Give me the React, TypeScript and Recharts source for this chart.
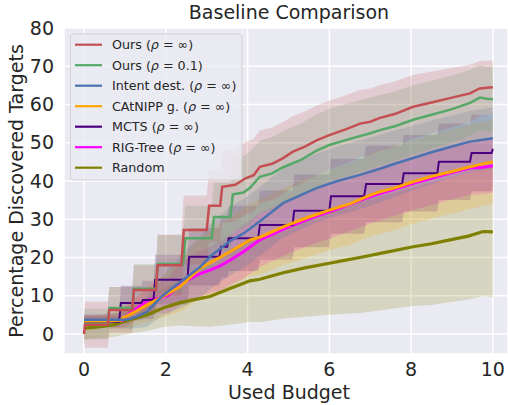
import React from 'react';
import { ComposedChart, Line, Area, XAxis, YAxis, CartesianGrid, Legend, Customized } from 'recharts';

const FONT = '"DejaVu Sans", "Liberation Sans", sans-serif';
const TXT = '#262626';

const xTicks = [0, 2, 4, 6, 8, 10];
const yTicks = [0, 10, 20, 30, 40, 50, 60, 70, 80];

// Ours (rho = inf)
const oursInfX = [0, 0.02, 0.58, 0.62, 1.18, 1.22, 1.76, 1.8, 2.38, 2.44, 3.0, 3.06, 3.33, 3.38, 3.7, 3.95, 4.15, 4.3, 4.6, 4.87, 5.1, 5.4, 5.7, 6.0, 6.4, 6.75, 7.0, 7.24, 7.6, 8.05, 8.5, 9.0, 9.44, 9.68, 9.85, 10];
const oursInfY = [0, 2.4, 2.4, 6.3, 6.3, 11.5, 11.5, 18, 18, 27.2, 27.2, 33.5, 33.5, 38.5, 39, 40.7, 41.5, 43.7, 44.5, 46, 47.6, 49, 50.7, 52, 53.5, 55, 55.5, 56.5, 57.5, 59.4, 60.5, 61.8, 62.9, 64.2, 64.4, 64.5];
const oursInfSd = [2, 6, 6, 6, 6, 6.5, 6.5, 8, 8, 9, 9, 9.5, 9.5, 9.5, 9.5, 9.5, 9.5, 9.5, 9.5, 9.4, 9.3, 9.2, 9.1, 9, 8.9, 8.8, 8.7, 8.6, 8.5, 8.3, 8.1, 7.8, 7.5, 7.2, 7.1, 7];

// Ours (rho = 0.1)
const ours01X = [0, 0.58, 0.62, 1.18, 1.22, 1.76, 1.8, 2.42, 2.48, 3.12, 3.18, 3.58, 3.64, 3.9, 4.06, 4.3, 4.6, 4.87, 5.3, 5.7, 6.0, 6.5, 7.0, 7.24, 7.6, 8.05, 8.5, 9.0, 9.44, 9.68, 9.85, 10];
const ours01Y = [2.6, 2.6, 6.8, 6.8, 11.8, 11.8, 18.3, 18.3, 25, 25, 30.6, 30.6, 36.5, 37, 38.2, 41.1, 42, 43.6, 45.5, 48, 49.4, 51, 52.5, 53.3, 54.3, 56, 57.3, 58.8, 60.4, 61.8, 61.5, 61.4];
const ours01Sd = [4, 4, 5.5, 5.5, 6.5, 6.5, 7.5, 7.5, 8.5, 8.5, 9, 9, 9.5, 9.5, 9.5, 9.5, 9.5, 9.5, 9.5, 9.5, 9.5, 9.4, 9.3, 9.2, 9.1, 9, 8.9, 8.8, 8.6, 8.5, 8.4, 8.4];

// Intent dest.
const intentX = [0, 0.5, 1.0, 1.12, 1.3, 1.54, 1.86, 2.1, 2.42, 2.84, 3.08, 3.57, 3.9, 4.06, 4.3, 4.87, 5.3, 5.7, 6.2, 6.75, 7.24, 7.6, 8.05, 8.5, 9.0, 9.44, 10];
const intentY = [3.7, 3.7, 3.7, 3.9, 4.6, 5.8, 9.4, 11.5, 14.1, 17.5, 20.2, 24.3, 26.3, 27.5, 29.5, 34.2, 36.3, 38.2, 40, 41.6, 43.2, 44.5, 46, 47.5, 49, 50.3, 51.2];
const intentSd = [1.5, 1.5, 2, 2.5, 3, 4, 5, 6, 7, 8, 8.5, 9, 9, 9, 9, 9, 9, 9, 9, 9, 8.8, 8.7, 8.5, 8.3, 8.1, 8, 8];

// CAtNIPP g.
const catnippX = [0, 0.5, 0.9, 0.95, 1.2, 1.54, 1.93, 2.35, 2.84, 3.57, 4.06, 4.3, 4.87, 5.4, 6.0, 6.5, 7.0, 7.24, 7.6, 8.05, 8.5, 9.0, 9.44, 9.8, 10];
const catnippY = [3.4, 3.4, 3.6, 4.2, 5.5, 7.6, 9.8, 12.4, 17.2, 21.5, 24.6, 25.3, 28, 30.2, 32.4, 34, 36.3, 37.2, 38.2, 39.8, 41.2, 42.5, 43.7, 44.6, 45];
const catnippSd = [1.5, 1.5, 2, 2.5, 3.5, 4.5, 5.5, 6.5, 8, 9, 9.5, 9.8, 10, 10.3, 10.5, 10.7, 10.8, 11, 11, 11, 11, 11, 11, 11, 11];

// MCTS
const mctsX = [0, 0.86, 0.9, 1.4, 1.44, 1.7, 1.74, 2.53, 2.57, 3.31, 3.35, 3.5, 3.54, 4.26, 4.3, 5.1, 5.14, 6.0, 6.04, 6.85, 6.9, 7.78, 7.82, 8.64, 8.68, 9.44, 9.48, 9.97, 10];
const mctsY = [3.2, 3.2, 8.1, 8.1, 8.9, 8.9, 14.2, 14.2, 20.2, 20.2, 22.8, 22.8, 25, 25, 28.5, 28.5, 32.2, 32.2, 36, 36, 39.2, 39.2, 42, 42, 45, 45, 47.3, 47.3, 48.4];
const mctsSd = [1.5, 1.5, 4.5, 4.5, 5, 5, 6.5, 6.5, 7.5, 7.5, 8, 8, 8.5, 8.5, 9, 9, 9.5, 9.5, 9.8, 9.8, 10, 10, 10, 10, 10, 10, 10, 10, 10];

// RIG-Tree
const rigX = [0, 0.5, 0.95, 1.0, 1.3, 1.6, 1.85, 2.05, 2.2, 2.42, 2.84, 3.08, 3.33, 3.57, 3.9, 4.3, 5.0, 5.6, 6.2, 7.0, 8.05, 9.0, 9.44, 9.76, 10];
const rigY = [3.5, 3.5, 3.6, 4.4, 6.8, 9.0, 9.4, 10, 11.5, 13.5, 15.8, 16.7, 17.8, 19.3, 21.5, 24.6, 28, 30.5, 32.7, 35.9, 39.4, 42.2, 43.4, 43.6, 44];
const rigSd = [1.5, 1.5, 2, 2.5, 3, 3.5, 4, 4.5, 5, 5.5, 6, 6, 6.5, 6.5, 7, 7, 7, 7, 7, 7, 7, 7, 7, 7, 7];

// Random
const randomX = [0, 0.3, 0.71, 1.12, 1.54, 1.93, 2.35, 2.7, 3.08, 3.6, 4.06, 4.3, 4.87, 5.4, 6.0, 6.4, 6.75, 7.4, 8.05, 8.5, 8.95, 9.4, 9.76, 10];
const randomY = [1.5, 1.8, 2.4, 3.7, 5.0, 6.8, 8.2, 9.0, 9.8, 12, 13.9, 14.3, 16, 17.3, 18.5, 19.3, 20, 21.4, 22.8, 23.6, 24.6, 25.6, 26.8, 26.7];
const randomSd = [3, 3, 3.2, 3.6, 4.2, 5, 6, 7, 8, 9.5, 10.7, 11.2, 12, 12.8, 13.5, 14, 14.5, 15, 15.5, 16, 16.3, 16.6, 16.9, 17];

const seriesNames = ['Ours', 'Ours', 'Intent dest.', 'CAtNIPP g.', 'MCTS', 'RIG-Tree', 'Random'];
const rhoValues = ['∞', '0.1', '∞', '∞', '∞', '∞', ''];
const colors = ['#C44E52', '#55A868', '#4C72B0', '#FFA500', '#4B0082', '#FF00FF', '#808000'];
const widths = [2.5, 2.5, 2.5, 3, 2, 3, 3.2];

const raw = [
  [oursInfX, oursInfY, oursInfSd],
  [ours01X, ours01Y, ours01Sd],
  [intentX, intentY, intentSd],
  [catnippX, catnippY, catnippSd],
  [mctsX, mctsY, mctsSd],
  [rigX, rigY, rigSd],
  [randomX, randomY, randomSd],
];

const series = raw.map(([xs, ys, sds], k) => ({
  key: 's' + k,
  color: colors[k],
  width: widths[k],
  data: xs.map((x, i) => ({ x, y: ys[i], band: [ys[i] - sds[i], ys[i] + sds[i]] })),
}));

const LegendBox = () => (
  <svg width={508} height={405} style={{ position: 'absolute', left: 0, top: 0, pointerEvents: 'none' }}>
    <rect x={70.5} y={34} width={171.5} height={146} rx={3} fill="#EAEAF2" fillOpacity={0.8} stroke="#CCCCCC" strokeOpacity={0.8} />
    {seriesNames.map((n, i) => {
      const cy = 44.7 + i * 20.5;
      return (
        <g key={i}>
          <line x1={75} x2={102} y1={cy} y2={cy} stroke={colors[i]} strokeWidth={2.2} />
          <text x={112} y={cy + 4.5} fontFamily={FONT} fontSize={12.7} fill={TXT}>
            {n}
            {rhoValues[i] ? (
              <>
                {' ('}
                <tspan fontStyle="italic">ρ</tspan>
                {' = ' + rhoValues[i] + ')'}
              </>
            ) : null}
          </text>
        </g>
      );
    })}
  </svg>
);

const Labels = () => (
  <g>
    <text x={289} y={18.5} textAnchor="middle" fontFamily={FONT} fontSize={19} fill={TXT}>Baseline Comparison</text>
    <text x={289} y={399} textAnchor="middle" fontFamily={FONT} fontSize={19} fill={TXT}>Used Budget</text>
    <text x={23} y={191} textAnchor="middle" fontFamily={FONT} fontSize={19} fill={TXT} transform="rotate(-90 23 191)">Percentage Discovered Targets</text>
  </g>
);

export default function App() {
  const tickStyle = { fill: TXT, fontSize: 19, fontFamily: FONT };
  const order = [...series].reverse();
  return (
    <div style={{ position: 'absolute', left: 0, top: 0, width: 508, height: 405, background: '#fff' }}>
      <ComposedChart width={508} height={405} margin={{ top: 28, right: 0, bottom: 0, left: 0 }}>
        <CartesianGrid fill="#EAEAF2" stroke="#FFFFFF" strokeWidth={1.5} />
        <XAxis type="number" dataKey="x" domain={[-0.49, 10.37]} ticks={xTicks} allowDataOverflow interval={0}
          tickLine={false} axisLine={false} tickSize={0} tickMargin={9} height={51} tick={tickStyle} />
        <YAxis type="number" domain={[-5.23, 80]} ticks={yTicks} allowDataOverflow interval={0}
          tickLine={false} axisLine={false} tickSize={0} tickMargin={10} width={64} tick={tickStyle} />
        {order.map((s) => (
          <Area key={'a' + s.key} data={s.data} dataKey="band" type="linear" stroke="none" fill={s.color}
            fillOpacity={0.2} isAnimationActive={false} />
        ))}
        {order.map((s) => (
          <Line key={'l' + s.key} data={s.data} dataKey="y" type="linear" stroke={s.color} strokeWidth={s.width}
            dot={false} activeDot={false} isAnimationActive={false} />
        ))}
        <Customized component={Labels} />
        <Legend layout="horizontal" align="center" verticalAlign="middle" content={() => <LegendBox />}
          wrapperStyle={{ position: 'absolute', left: 0, top: 0, width: 508, height: 405, pointerEvents: 'none' }} />
      </ComposedChart>
    </div>
  );
}
